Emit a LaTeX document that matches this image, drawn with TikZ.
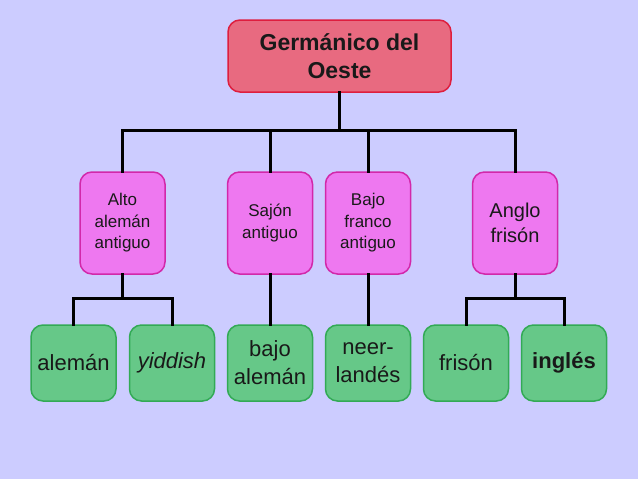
\documentclass[tikz,border=0pt]{standalone}
\usepackage{fontspec}
\setmainfont{Liberation Sans}
\definecolor{bg}{RGB}{204,204,255}
\definecolor{topfill}{RGB}{232,106,128}
\definecolor{topdraw}{RGB}{222,30,62}
\definecolor{midfill}{RGB}{238,120,240}
\definecolor{middraw}{RGB}{210,40,170}
\definecolor{lowfill}{RGB}{102,200,136}
\definecolor{lowdraw}{RGB}{50,170,85}
\begin{document}
\begin{tikzpicture}[x=1pt,y=-1pt,
  box/.style={rounded corners=12pt, line width=1.5pt, align=center, inner sep=0pt, text=black!90},
  topbox/.style={box, fill=topfill, draw=topdraw, minimum width=223pt, minimum height=72pt, font=\fontsize{23}{28}\selectfont\bfseries},
  midbox/.style={box, fill=midfill, draw=middraw, minimum width=85pt, minimum height=102pt, font=\fontsize{17}{21.5}\selectfont},
  lowbox/.style={box, fill=lowfill, draw=lowdraw, minimum width=85pt, minimum height=76pt, font=\fontsize{22}{28}\selectfont},
  conn/.style={line width=3pt, line cap=rect}]
\fill[bg] (0,0) rectangle (638,479);
\node[topbox] (g) at (339.5,56) {Germánico del\\Oeste};
\node[midbox] (m1) at (122.5,223) {Alto\\alemán\\antiguo};
\node[midbox] (m2) at (270,223) {Sajón\\antiguo};
\node[midbox] (m3) at (368,223) {Bajo\\franco\\antiguo};
\node[midbox, font=\fontsize{20}{25}\selectfont] (m4) at (515,223) {Anglo\\frisón};
\node[lowbox] (l1) at (73.5,363) {alemán};
\node[lowbox] (l2) at (172,363) {\itshape yiddish};
\node[lowbox] (l3) at (270,363) {bajo\\alemán};
\node[lowbox] (l4) at (368,363) {neer-\\landés};
\node[lowbox] (l5) at (466,363) {frisón};
\node[lowbox] (l6) at (564,363) {\bfseries inglés};
\coordinate (bar) at (339.5,130);
\coordinate (b1) at (122.5,298);
\coordinate (b4) at (515,298);
\draw[conn] (g.south) -- (bar);
\draw[conn] (m1.north) -- (m1.north |- bar) -- (m4.north |- bar) -- (m4.north);
\draw[conn] (m2.north) -- (m2.north |- bar);
\draw[conn] (m3.north) -- (m3.north |- bar);
\draw[conn] (m1.south) -- (b1);
\draw[conn] (l1.north) -- (l1.north |- b1) -- (l2.north |- b1) -- (l2.north);
\draw[conn] (m2.south) -- (l3.north);
\draw[conn] (m3.south) -- (l4.north);
\draw[conn] (m4.south) -- (b4);
\draw[conn] (l5.north) -- (l5.north |- b4) -- (l6.north |- b4) -- (l6.north);
\end{tikzpicture}
\end{document}
